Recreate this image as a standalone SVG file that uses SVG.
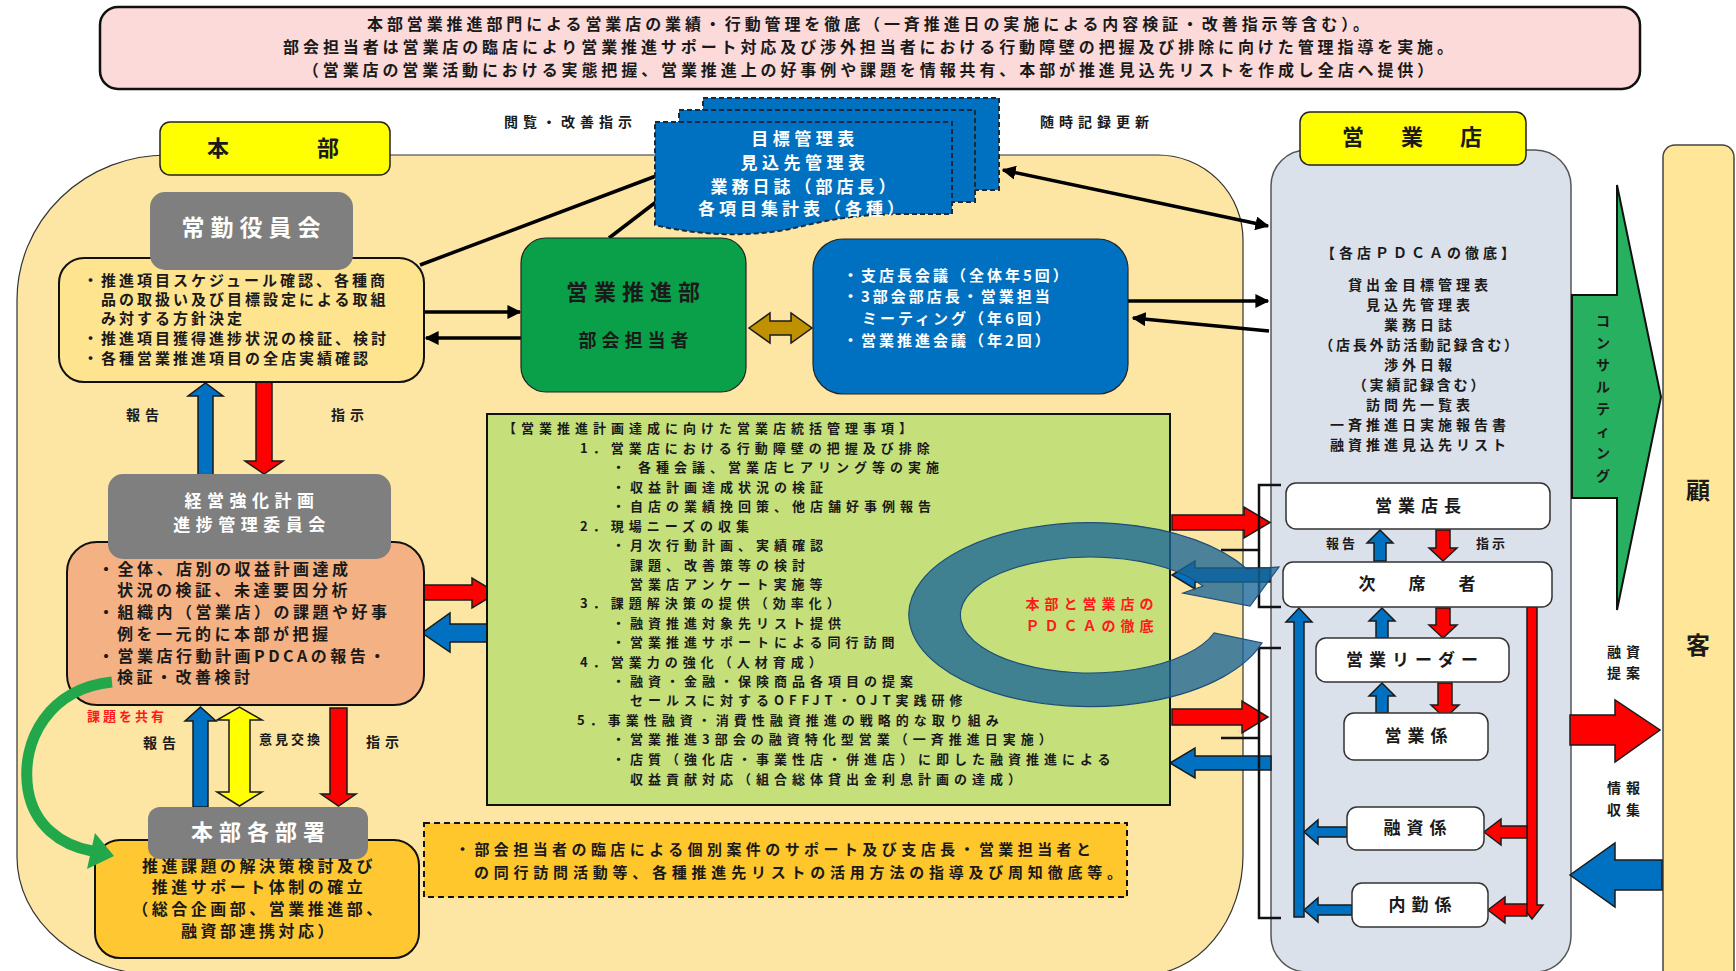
<svg xmlns="http://www.w3.org/2000/svg" width="1736" height="971" viewBox="0 0 1736 971">
<defs>
<style>
text{font-family:"Noto Sans CJK JP","Noto Sans CJK SC",sans-serif;font-weight:bold;fill:#1a1a1a}
.w{fill:#fff}
.red{fill:#ff1a1a}
.p16{font-size:16px;letter-spacing:3.9px}
.t15{font-size:15px;letter-spacing:3px}
.g14{font-size:13px;letter-spacing:5px}
.t16{font-size:16px;letter-spacing:3.5px}
.t14{font-size:14px;letter-spacing:5px}
.t13{font-size:13px;letter-spacing:3px}
.s14{font-size:14px;letter-spacing:4px}
.big{font-size:22px;letter-spacing:6px}
.node{font-size:17px;letter-spacing:6px}
.mid{text-anchor:middle}
.blk{stroke:#1a1a1a;stroke-width:1.5;stroke-linejoin:miter}
.rA{fill:#ff0000}
.bA{fill:#0070c0}
.line{stroke:#000;stroke-width:3.5;fill:none}
.wb{fill:#fff;stroke:#333;stroke-width:1.5}
.gray{fill:#7f7f7f}
</style>
<marker id="ah" viewBox="0 0 10 10" refX="9" refY="5" markerWidth="4" markerHeight="4" orient="auto-start-reverse"><path d="M0,0 L10,5 L0,10 z" fill="#000"/></marker>
</defs>
<rect x="0" y="0" width="1736" height="971" fill="#fff"/>

<g id="top-note">
<rect x="100" y="7" width="1540" height="82" rx="18" fill="#fcdada" stroke="#111" stroke-width="2.5"/>
<text class="p16 mid" x="870" y="30">本部営業推進部門による営業店の業績・行動管理を徹底（一斉推進日の実施による内容検証・改善指示等含む）。</text>
<text class="p16 mid" x="870" y="53">部会担当者は営業店の臨店により営業推進サポート対応及び渉外担当者における行動障壁の把握及び排除に向けた管理指導を実施。</text>
<text class="p16 mid" x="870" y="76">（営業店の営業活動における実態把握、営業推進上の好事例や課題を情報共有、本部が推進見込先リストを作成し全店へ提供）</text>
</g>

<g id="honbu-area">
<path d="M17,300 A150,145 0 0 1 167,155 L1158,155 A85,85 0 0 1 1243,240 L1243,855 A100,120 0 0 1 1143,975 L160,975 A143,118 0 0 1 17,857 Z" fill="#fde5a4" stroke="#333" stroke-width="1.2"/>
</g>
<g id="eigyoten-area">
<rect x="1271" y="150" width="300" height="822" rx="36" fill="#dbe1ea" stroke="#555" stroke-width="1.5"/>
<text class="s14 mid" x="1420" y="258">【各店ＰＤＣＡの徹底】</text>
<text class="s14 mid" x="1420" y="290">貸出金目標管理表</text>
<text class="s14 mid" x="1420" y="310">見込先管理表</text>
<text class="s14 mid" x="1420" y="330">業務日誌</text>
<text class="s14 mid" x="1420" y="350" style="letter-spacing:2.8px">（店長外訪活動記録含む）</text>
<text class="s14 mid" x="1420" y="370">渉外日報</text>
<text class="s14 mid" x="1420" y="390" style="letter-spacing:2.8px">（実績記録含む）</text>
<text class="s14 mid" x="1420" y="410">訪問先一覧表</text>
<text class="s14 mid" x="1420" y="430">一斉推進日実施報告書</text>
<text class="s14 mid" x="1420" y="450">融資推進見込先リスト</text>
</g>
<g id="label-honbu">
<rect x="160" y="122" width="230" height="53" rx="10" fill="#ffff00" stroke="#222" stroke-width="1.5"/>
<text class="mid" x="273" y="156" style="font-size:22px">本　　　　部</text>
</g>
<g id="label-eigyoten">
<rect x="1300" y="112" width="226" height="53" rx="10" fill="#ffff00" stroke="#222" stroke-width="1.5"/>
<text x="1342" y="145" style="font-size:22px;letter-spacing:7.5px">営　業　店</text>
</g>
<g id="kokyaku">
<rect x="1663" y="145" width="71" height="840" rx="12" fill="#ffe699" stroke="#444" stroke-width="1.5"/>
<text class="mid" x="1698" y="499" style="font-size:24px">顧</text>
<text class="mid" x="1698" y="654" style="font-size:24px">客</text>
</g>

<g id="connectors">
<line class="line" x1="420" y1="265" x2="656" y2="176"/>
<line class="line" x1="609" y1="238" x2="656" y2="202"/>
<line class="line" x1="1003" y1="170" x2="1268" y2="226" marker-start="url(#ah)" marker-end="url(#ah)"/>
<line class="line" x1="424" y1="312" x2="520" y2="312" marker-end="url(#ah)"/>
<line class="line" x1="521" y1="338" x2="426" y2="338" marker-end="url(#ah)"/>
<line class="line" x1="1128" y1="301" x2="1268" y2="301" marker-end="url(#ah)"/>
<line class="line" x1="1269" y1="331" x2="1133" y2="318" marker-end="url(#ah)"/>
<polygon class="blk bA" points="198,475 198,396 188,396 205.5,383 223,396 213,396 213,475"/>
<polygon class="blk rA" points="256,382 256,461 245,461 264,474 283,461 272,461 272,382"/>
<polygon class="blk bA" points="193,807 193,721 185,721 200.5,707 216,721 208,721 208,807"/>
<polygon class="blk" fill="#ffff00" points="229,720 217,720 239.5,707 262,720 250,720 250,792 262,792 239.5,806 217,792 229,792"/>
<polygon class="blk rA" points="330,708 330,794 321,794 338.5,806 356,794 347,794 347,708"/>
<polygon class="blk rA" points="424,585 472,585 472,578 497,593 472,608 472,600 424,600"/>
<polygon class="blk bA" points="492,624 450,624 450,613 422,633 450,652 450,642 492,642"/>
<polygon class="blk" fill="#bf9000" points="749,328 770,313 770,321 791,321 791,313 812,328 791,343 791,335 770,335 770,343"/>
<polygon class="blk rA" points="1172,515 1244,515 1244,507 1270,522.5 1244,538 1244,530 1172,530"/>
<polygon class="blk bA" points="1270,568 1195,568 1195,561 1172,575 1195,589 1195,582 1270,582"/>
<polygon class="blk rA" points="1172,709 1242,709 1242,701 1268,717 1242,733 1242,725 1172,725"/>
<polygon class="blk bA" points="1271,756 1195,756 1195,748 1170,763 1195,778 1195,770 1271,770"/>
<path d="M1281,485 H1259 V607 H1281 M1259,550 H1221 M1281,648 H1259 V918 H1281 M1259,738 H1221" fill="none" stroke="#111" stroke-width="2.5"/>
<polygon class="blk bA" points="1374,561 1374,543 1367,543 1380,530 1393,543 1386,543 1386,561"/>
<polygon class="blk rA" points="1436,530 1450,530 1450,548 1457,548 1443,561 1429,548 1436,548"/>
<polygon class="blk bA" points="1376,638 1376,621 1369,621 1382,608 1395,621 1388,621 1388,638"/>
<polygon class="blk rA" points="1436,608 1450,608 1450,625 1457,625 1443,638 1429,625 1436,625"/>
<polygon class="blk bA" points="1376,713 1376,696 1369,696 1382,683 1395,696 1388,696 1388,713"/>
<polygon class="blk rA" points="1438,683 1452,683 1452,705 1459,705 1445,718 1431,705 1438,705"/>
<polygon class="blk bA" points="1294,917 1294,622 1286,622 1299,608 1312,622 1304,622 1304,917"/>
<polygon class="blk bA" points="1347,827 1318,827 1318,820 1304,832 1318,844 1318,837 1347,837"/>
<polygon class="blk bA" points="1352,905 1318,905 1318,898 1304,910 1318,922 1318,915 1352,915"/>
<polygon class="blk rA" points="1527,607 1537,607 1537,905 1543,905 1532,919 1521,905 1527,905"/>
<polygon class="blk rA" points="1527,826 1501,826 1501,819 1484,832 1501,845 1501,838 1527,838"/>
<polygon class="blk rA" points="1527,904 1505,904 1505,897 1488,910 1505,923 1505,916 1527,916"/>
<polygon fill="#27b060" stroke="#111" stroke-width="2" points="1572,295 1617,295 1617,185 1661,397 1617,610 1617,498 1572,498"/>
<polygon class="blk rA" points="1570,715 1615,715 1615,700 1660,730 1615,762 1615,745 1570,745"/>
<polygon class="blk bA" points="1662,860 1615,860 1615,843 1570,875 1615,907 1615,890 1662,890"/>
</g>

<g id="labels">
<text class="t14" x="504" y="127">閲覧・改善指示</text>
<text class="t14" x="1040" y="127">随時記録更新</text>
<text class="t14 mid" x="145" y="420">報告</text>
<text class="t14 mid" x="350" y="420">指示</text>
<text class="t14 mid" x="162" y="748">報告</text>
<text class="t13 mid" x="291" y="744">意見交換</text>
<text class="t14 mid" x="385" y="747">指示</text>
<text class="t13 red" x="87" y="721">課題を共有</text>
<text class="t13 mid" x="1342" y="548">報告</text>
<text class="t13 mid" x="1492" y="548">指示</text>
<text class="t14 mid" x="1626" y="657">融資</text>
<text class="t14 mid" x="1626" y="678">提案</text>
<text class="t14 mid" x="1626" y="793">情報</text>
<text class="t14 mid" x="1626" y="815">収集</text>
<text class="mid" style="font-size:14px"><tspan x="1603" y="326">コ</tspan><tspan x="1603" y="348">ン</tspan><tspan x="1603" y="370">サ</tspan><tspan x="1603" y="392">ル</tspan><tspan x="1603" y="414">テ</tspan><tspan x="1603" y="436">ィ</tspan><tspan x="1603" y="458">ン</tspan><tspan x="1603" y="481">グ</tspan></text>
</g>

<g id="docs">
<rect x="703" y="98" width="296" height="92" fill="#0070c0" stroke="#1a2a3a" stroke-width="2" stroke-dasharray="5,3"/>
<rect x="679" y="110" width="296" height="92" fill="#0070c0" stroke="#1a2a3a" stroke-width="2" stroke-dasharray="5,3"/>
<path d="M655,122 H952 V214 L905,214 C850,214 820,222 790,229 C750,237 700,236 655,225 Z" fill="#0070c0" stroke="#1a2a3a" stroke-width="2" stroke-dasharray="5,3"/>
<text class="w mid" x="805" y="145" style="font-size:17px;letter-spacing:4.5px">目標管理表</text>
<text class="w mid" x="805" y="169" style="font-size:17px;letter-spacing:4.5px">見込先管理表</text>
<text class="w mid" x="805" y="193" style="font-size:17px;letter-spacing:4px">業務日誌（部店長）</text>
<text class="w mid" x="803" y="215" style="font-size:17px;letter-spacing:4px">各項目集計表（各種）</text>
</g>

<g id="jokin">
<rect x="59" y="258" width="365" height="124" rx="25" fill="#ffe48f" stroke="#111" stroke-width="2"/>
<rect class="gray" x="150" y="192" width="203" height="78" rx="15"/>
<text class="w mid" x="254" y="236" style="font-size:23px;letter-spacing:6px">常勤役員会</text>
<text class="t15" x="83" y="286">・推進項目スケジュール確認、各種商</text>
<text class="t15" x="101" y="305">品の取扱い及び目標設定による取組</text>
<text class="t15" x="101" y="324">み対する方針決定</text>
<text class="t15" x="83" y="344">・推進項目獲得進捗状況の検証、検討</text>
<text class="t15" x="83" y="364">・各種営業推進項目の全店実績確認</text>
</g>

<g id="eigyosuishinbu">
<rect x="521" y="238" width="225" height="154" rx="25" fill="#0aa04a" stroke="#222" stroke-width="1.2"/>
<text class="big mid" x="636" y="300">営業推進部</text>
<text class="mid" x="636" y="347" style="font-size:18px;letter-spacing:5px">部会担当者</text>
</g>

<g id="meetings">
<rect x="813" y="239" width="315" height="155" rx="30" fill="#0070c0" stroke="#222" stroke-width="1.2"/>
<text class="w t15" x="843" y="281">・支店長会議（全体年5回）</text>
<text class="w t15" x="843" y="302">・3部会部店長・営業担当</text>
<text class="w t15" x="862" y="324">ミーティング（年6回）</text>
<text class="w t15" x="843" y="346">・営業推進会議（年2回）</text>
</g>

<g id="keiei">
<rect x="67" y="542" width="357" height="163" rx="30" fill="#f4b183" stroke="#111" stroke-width="2"/>
<rect class="gray" x="108" y="474" width="283" height="85" rx="15"/>
<text class="w mid" x="252" y="507" style="font-size:17px;letter-spacing:5.5px">経営強化計画</text>
<text class="w mid" x="252" y="531" style="font-size:17px;letter-spacing:5.5px">進捗管理委員会</text>
<text class="t16" x="98" y="575">・全体、店別の収益計画達成</text>
<text class="t16" x="117" y="596">状況の検証、未達要因分析</text>
<text class="t16" x="98" y="618">・組織内（営業店）の課題や好事</text>
<text class="t16" x="117" y="640">例を一元的に本部が把握</text>
<text class="t16" x="98" y="662">・営業店行動計画PDCAの報告・</text>
<text class="t16" x="117" y="683">検証・改善検討</text>
</g>

<g id="honbu-busho">
<rect x="95" y="840" width="324" height="118" rx="25" fill="#ffc833" stroke="#111" stroke-width="2"/>
<rect class="gray" x="148" y="807" width="220" height="52" rx="12"/>
<text class="w big mid" x="261" y="840">本部各部署</text>
<text class="t16 mid" x="259" y="872">推進課題の解決策検討及び</text>
<text class="t16 mid" x="259" y="893">推進サポート体制の確立</text>
<text class="t16 mid" x="259" y="915">（総合企画部、営業推進部、</text>
<text class="t16 mid" x="259" y="937">融資部連携対応）</text>
</g>

<g id="share-arrow">
<path d="M112,682 C50,688 20,740 28,790 C34,825 60,845 92,851" fill="none" stroke="#22a84a" stroke-width="11"/>
<polygon fill="#22a84a" points="114,856 95,833 87,869"/>
</g>

<g id="tokatsu">
<rect x="487" y="414" width="683" height="391" fill="#c5e07b" stroke="#111" stroke-width="2"/>
<text class="g14" x="503" y="433">【営業推進計画達成に向けた営業店統括管理事項】</text>
<text class="g14" x="580" y="453">1．営業店における行動障壁の把握及び排除</text>
<text class="g14" x="612" y="472.4">・ 各種会議、営業店ヒアリング等の実施</text>
<text class="g14" x="612" y="491.8">・収益計画達成状況の検証</text>
<text class="g14" x="612" y="511.2">・自店の業績挽回策、他店舗好事例報告</text>
<text class="g14" x="580" y="530.6">2．現場ニーズの収集</text>
<text class="g14" x="612" y="550">・月次行動計画、実績確認</text>
<text class="g14" x="630" y="569.5">課題、改善策等の検討</text>
<text class="g14" x="630" y="589">営業店アンケート実施等</text>
<text class="g14" x="580" y="608.4">3．課題解決策の提供（効率化）</text>
<text class="g14" x="612" y="627.8">・融資推進対象先リスト提供</text>
<text class="g14" x="612" y="647.2">・営業推進サポートによる同行訪問</text>
<text class="g14" x="580" y="666.6">4．営業力の強化（人材育成）</text>
<text class="g14" x="612" y="686">・融資・金融・保険商品各項目の提案</text>
<text class="g14" x="630" y="705.4">セールスに対するOFFJT・OJT実践研修</text>
<text class="g14" x="577" y="724.8">5．事業性融資・消費性融資推進の戦略的な取り組み</text>
<text class="g14" x="612" y="744.2">・営業推進3部会の融資特化型営業（一斉推進日実施）</text>
<text class="g14" x="612" y="763.6">・店質（強化店・事業性店・併進店）に即した融資推進による</text>
<text class="g14" x="630" y="784">収益貢献対応（組合総体貸出金利息計画の達成）</text>
</g>

<g id="dashed-note">
<rect x="424" y="823" width="703" height="74" fill="#ffc72c" stroke="#111" stroke-width="2" stroke-dasharray="6,4"/>
<text x="455" y="855" style="font-size:15px" textLength="636">・部会担当者の臨店による個別案件のサポート及び支店長・営業担当者と</text>
<text x="474" y="878" style="font-size:15px" textLength="648">の同行訪問活動等、各種推進先リストの活用方法の指導及び周知徹底等。</text>
</g>

<g id="shop-nodes">
<rect class="wb" x="1286" y="483" width="264" height="46" rx="10"/>
<text class="node mid" x="1421" y="512">営業店長</text>
<rect class="wb" x="1283" y="562" width="269" height="45" rx="10"/>
<text class="mid" x="1421" y="590" style="font-size:17px;letter-spacing:8px">次　席　者</text>
<rect class="wb" x="1316" y="638" width="193" height="44" rx="10"/>
<text class="node mid" x="1415" y="666">営業リーダー</text>
<rect class="wb" x="1344" y="713" width="144" height="47" rx="10"/>
<text class="node mid" x="1419" y="742">営業係</text>
<rect class="wb" x="1347" y="807" width="137" height="43" rx="10"/>
<text class="node mid" x="1418" y="834">融資係</text>
<rect class="wb" x="1352" y="883" width="136" height="44" rx="10"/>
<text class="node mid" x="1423" y="911">内勤係</text>
</g>

<g id="pdca-ring">
<path d="M1262,643 A181,92 0 1 1 1247,569 L1279,567 L1250,606 L1183,593 L1203,586 A130,58 0 1 0 1214,633 Z" fill="#1a6696" fill-opacity="0.78" stroke="#1f4e79" stroke-width="1.2"/>
<text class="t14 mid red" x="1092" y="609">本部と営業店の</text>
<text class="t14 mid red" x="1092" y="631">ＰＤＣＡの徹底</text>
</g>
</svg>
